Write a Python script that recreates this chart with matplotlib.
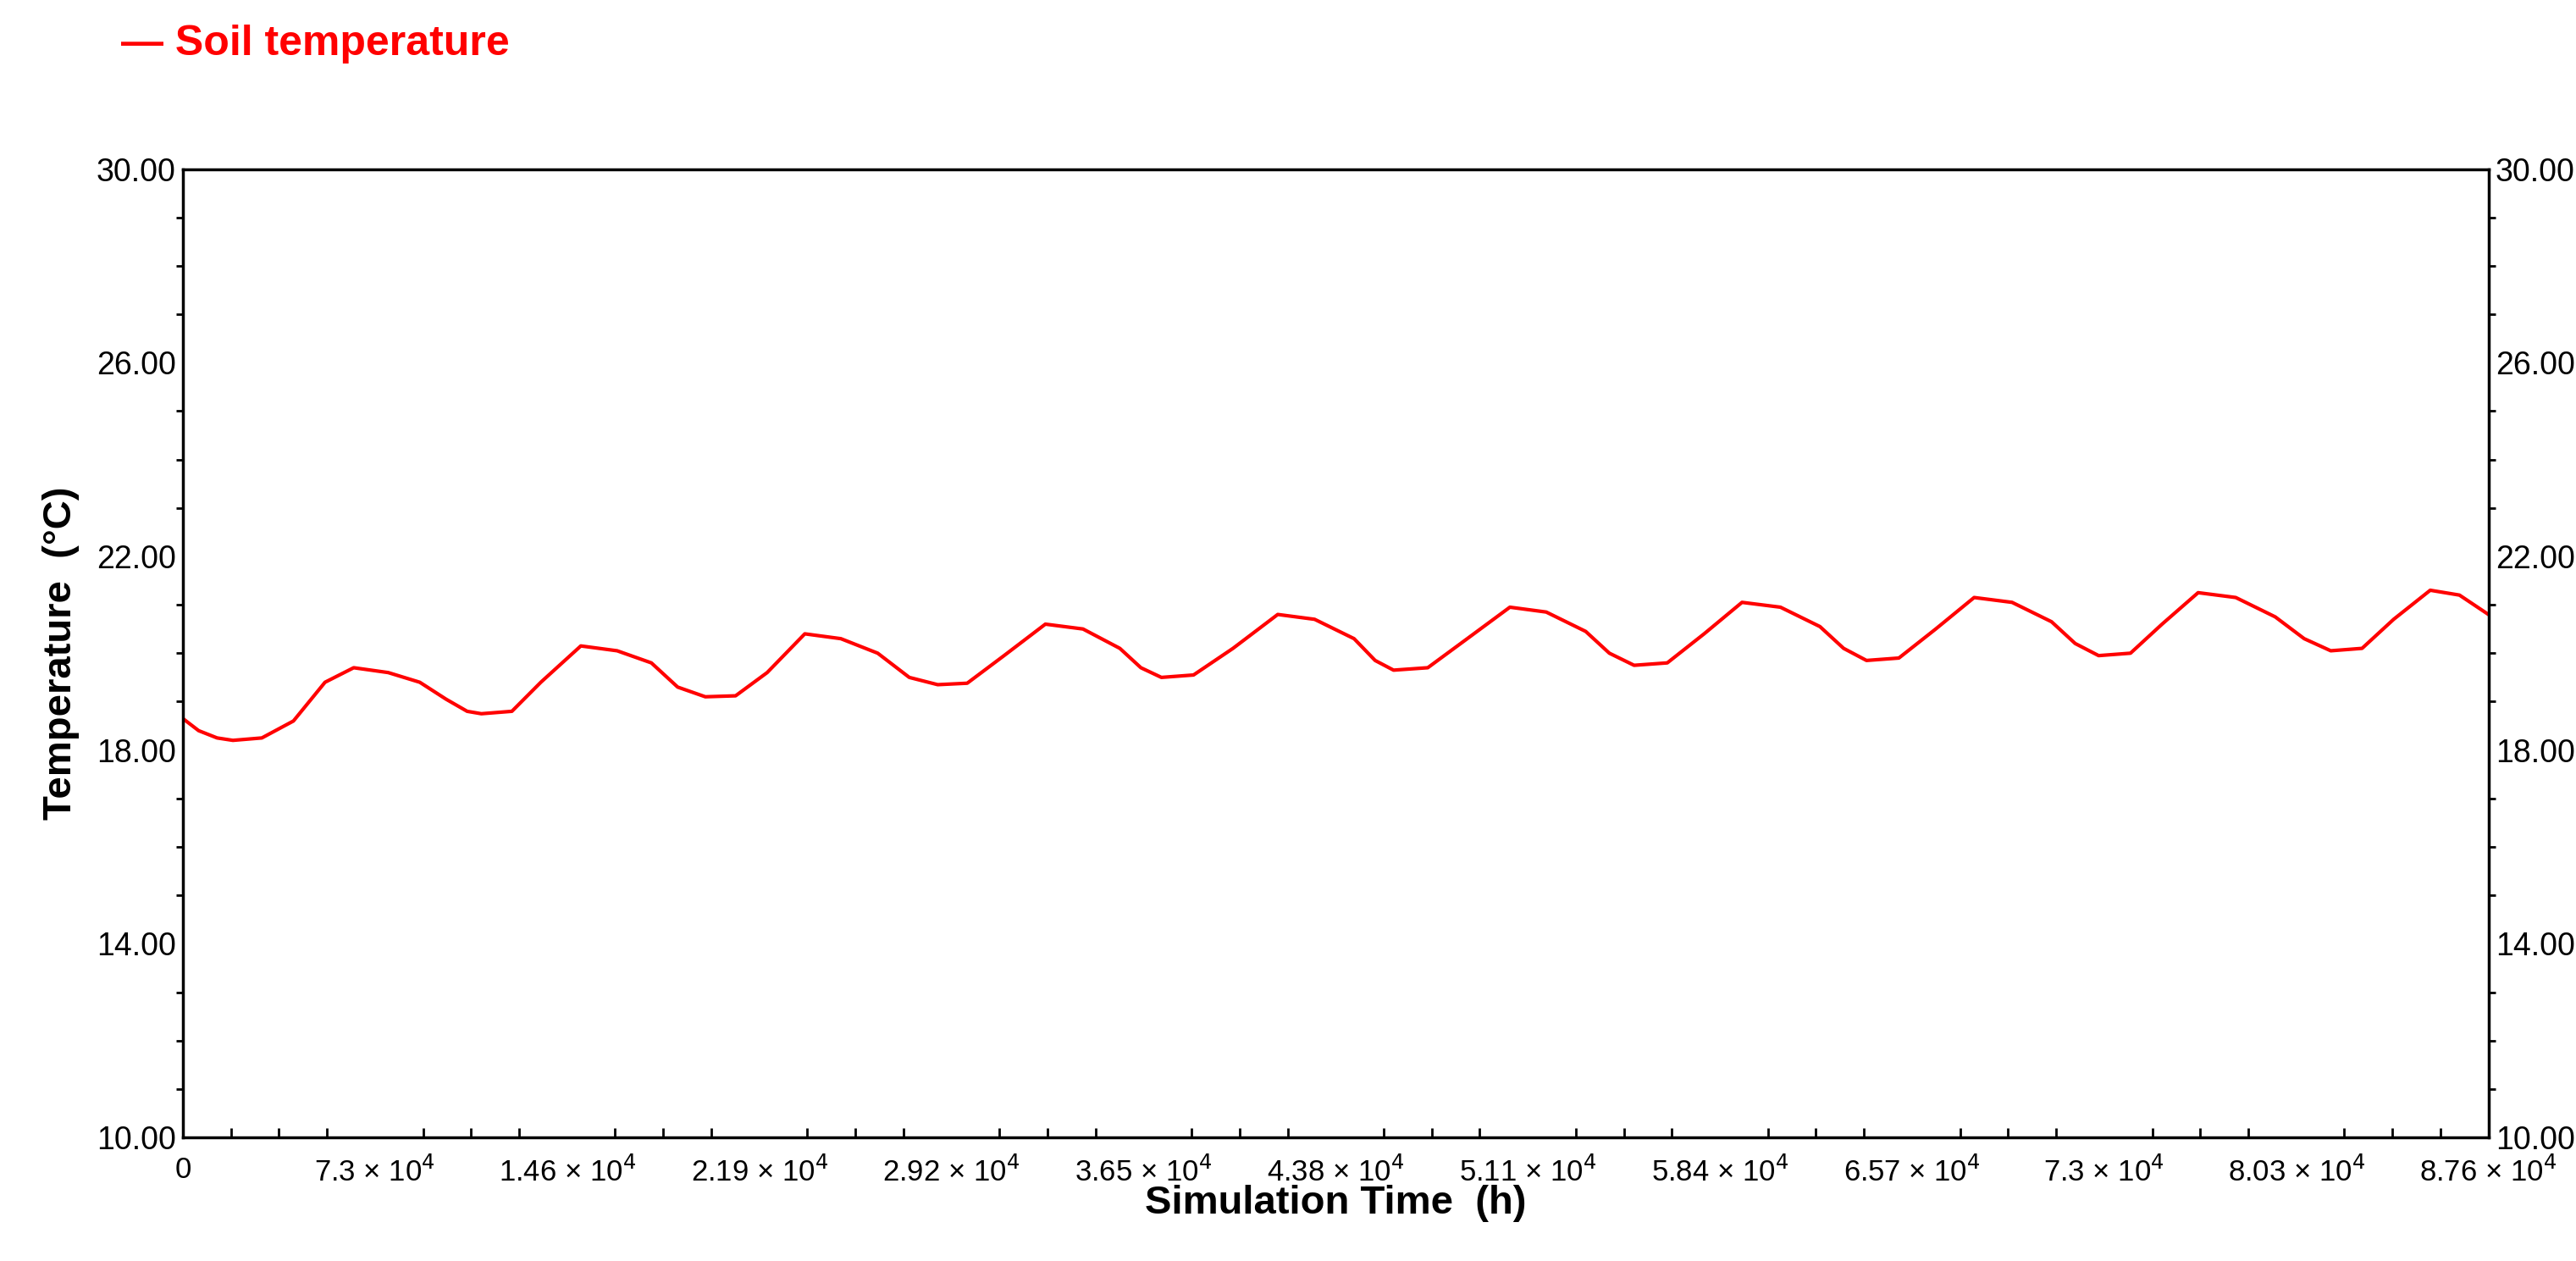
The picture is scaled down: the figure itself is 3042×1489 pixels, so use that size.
import numpy as np
import matplotlib.pyplot as plt
from matplotlib.ticker import MultipleLocator, AutoMinorLocator

# Hourly soil temperature over one year
time_h = [0, 60, 130, 190, 300, 420, 540, 649, 780, 900, 1000, 1080, 1134, 1250, 1360,
          1512, 1650, 1780, 1880, 1985, 2100, 2220, 2363, 2500, 2640, 2760, 2868, 2980,
          3120, 3277, 3420, 3560, 3640, 3718, 3840, 3990, 4160, 4300, 4450, 4530, 4600,
          4730, 4880, 5042, 5180, 5330, 5420, 5514, 5640, 5780, 5924, 6070, 6220, 6310,
          6397, 6520, 6660, 6806, 6950, 7100, 7190, 7279, 7400, 7520, 7657, 7800, 7950,
          8060, 8161, 8280, 8400, 8539, 8650, 8760]
soil_temp = [18.65, 18.4, 18.25, 18.2, 18.25, 18.6, 19.4, 19.7, 19.6, 19.4, 19.05, 18.8,
             18.75, 18.8, 19.4, 20.15, 20.05, 19.8, 19.3, 19.1, 19.12, 19.6, 20.4, 20.3,
             20.0, 19.5, 19.35, 19.38, 19.95, 20.6, 20.5, 20.1, 19.7, 19.5, 19.55, 20.1,
             20.8, 20.7, 20.3, 19.85, 19.65, 19.7, 20.3, 20.95, 20.85, 20.45, 20.0, 19.75,
             19.8, 20.4, 21.05, 20.95, 20.55, 20.1, 19.85, 19.9, 20.5, 21.15, 21.05, 20.65,
             20.2, 19.95, 20.0, 20.6, 21.25, 21.15, 20.75, 20.3, 20.05, 20.1, 20.7, 21.3,
             21.2, 20.8]

x_ticks = np.arange(0, 8761, 730)
x_labels = ["0", r"7.3 × 10$^4$", r"1.46 × 10$^4$", r"2.19 × 10$^4$", r"2.92 × 10$^4$",
            r"3.65 × 10$^4$", r"4.38 × 10$^4$", r"5.11 × 10$^4$", r"5.84 × 10$^4$",
            r"6.57 × 10$^4$", r"7.3 × 10$^4$", r"8.03 × 10$^4$", r"8.76 × 10$^4$"]
y_ticks = [10, 14, 18, 22, 26, 30]

plt.rcParams["font.family"] = ["Liberation Sans", "DejaVu Sans"]

fig = plt.figure(figsize=(30.42, 14.89), dpi=100)
ax = fig.add_axes([0.071, 0.098, 0.895, 0.768])

ax.plot(time_h, soil_temp, color="red", linewidth=3)
ax.set_xlim(0, 8760)
ax.set_ylim(10, 30)

ax.set_xticks(x_ticks)
ax.set_xticklabels(x_labels)
ax.xaxis.set_minor_locator(AutoMinorLocator(4))
ax.set_yticks(y_ticks)
ax.set_yticklabels([f"{v:.2f}" for v in y_ticks])
ax.yaxis.set_minor_locator(MultipleLocator(1))
ax.tick_params(axis="x", which="both", direction="in", top=False, labelsize=25, pad=16)
ax.tick_params(axis="x", which="major", length=0)
ax.tick_params(axis="x", which="minor", length=8, width=2)
ax.tick_params(axis="y", which="both", left=True, right=True, labelleft=True,
               labelright=True, labelsize=27, direction="out", pad=6)
ax.tick_params(axis="y", which="major", length=0)
ax.tick_params(axis="y", which="minor", length=6, width=2)
for s in ax.spines.values():
    s.set_linewidth(2.5)

ax.set_xlabel("Simulation Time  (h)", fontsize=34, fontweight="bold", labelpad=-2)
ax.set_ylabel("Temperature  (°C)", fontsize=34, fontweight="bold", labelpad=14)

fig.text(0.047, 0.965, "— Soil temperature", color="red", fontsize=36,
         fontweight="bold", va="center")

fig.savefig("out.png", dpi=100, facecolor="white")
